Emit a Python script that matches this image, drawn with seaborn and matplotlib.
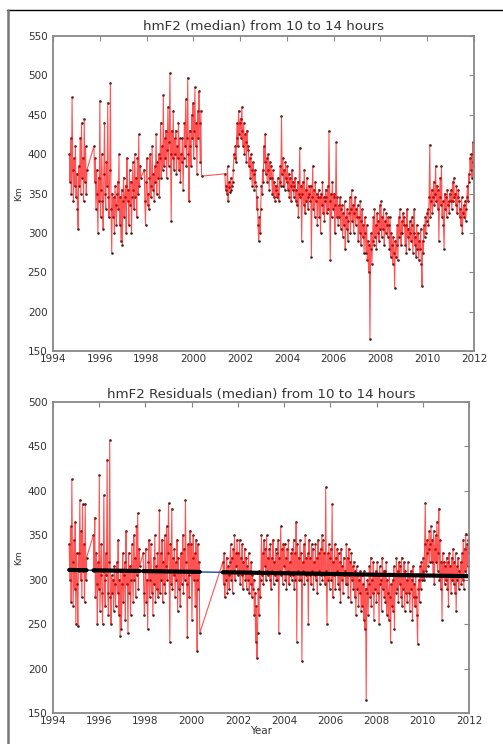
import numpy as np
import pandas as pd
import matplotlib
matplotlib.use("Agg")
import matplotlib.pyplot as plt
from matplotlib.lines import Line2D
import seaborn as sns

# Observation campaigns (decimal years): start, end
SEG_START = [1994.70, 1995.75, 1997.90, 2001.35]
SEG_END = [1995.45, 1997.75, 2000.35, 2012.00]

# hmF2 median (km), 10-14 LT, ~10-day samples, one list per campaign
HMF2_A = [400, 365, 420, 350, 472, 380, 340, 395, 360, 410, 345, 375,
          330, 305, 385, 360, 420, 350, 440, 370, 395, 340, 445, 365,
          410, 350, 380]
HMF2_B = [410, 365, 395, 330, 380, 350, 300, 370, 340, 468, 320, 355,
          400, 340, 305, 375, 440, 350, 330, 390, 360, 465, 345, 320,
          380, 490, 330, 275, 350, 320, 345, 300, 360, 335, 310, 350,
          365, 330, 400, 310, 345, 290, 355, 285, 340, 370, 320, 345,
          360, 300, 395, 340, 355, 310, 380, 335, 365, 300, 345, 390,
          355, 330, 400, 345, 370, 320, 395, 350, 425, 360, 385, 370]
HMF2_C = [380, 340, 310, 365, 395, 335, 350, 330, 370, 400, 345, 360,
          410, 355, 375, 340, 385, 365, 425, 350, 390, 370, 400, 345,
          395, 440, 370, 410, 380, 475, 385, 420, 395, 430, 370, 405,
          460, 385, 415, 503, 400, 315, 430, 395, 455, 380, 420, 400,
          430, 375, 410, 395, 440, 380, 420, 365, 400, 390, 420, 355,
          395, 440, 410, 470, 385, 420, 497, 400, 340, 430, 410, 385,
          450, 420, 465, 395, 430, 485, 410, 440, 375, 455, 420, 480,
          440, 390, 455, 372]
HMF2_D = [375, 355, 360, 350, 385, 340, 365, 358, 352, 370, 355, 360,
          365, 380, 400, 395, 410, 390, 420, 440, 410, 455, 425, 440,
          445, 420, 460, 430, 410, 440, 400, 425, 415, 390, 430, 405,
          410, 385, 395, 370, 400, 380, 360, 390, 375, 355, 380, 365,
          360, 330, 345, 310, 290, 320, 300, 330, 360, 350, 380, 365,
          410, 390, 425, 375, 395, 365, 400, 380, 355, 390, 370, 385,
          370, 350, 380, 345, 365, 340, 360, 355, 345, 370, 350, 340,
          365, 385, 360, 448, 375, 395, 360, 380, 355, 390, 370, 365,
          385, 355, 375, 345, 370, 360, 340, 380, 355, 365, 345, 360,
          370, 340, 355, 335, 365, 320, 350, 408, 345, 360, 290, 350,
          365, 335, 380, 325, 355, 340, 370, 345, 330, 360, 350, 340,
          360, 270, 345, 385, 330, 355, 320, 365, 340, 350, 310, 345,
          355, 320, 345, 300, 350, 335, 365, 325, 345, 315, 340, 355,
          345, 325, 360, 330, 430, 340, 265, 350, 320, 365, 330, 345,
          350, 300, 335, 415, 320, 345, 310, 335, 320, 345, 305, 330,
          335, 295, 325, 310, 340, 280, 320, 305, 330, 290, 315, 325,
          345, 300, 330, 355, 315, 335, 300, 325, 345, 310, 330, 320,
          335, 290, 320, 300, 340, 285, 315, 330, 295, 310, 275, 320,
          300, 275, 310, 265, 290, 250, 285, 165, 280, 300, 260, 290,
          320, 285, 330, 295, 310, 280, 325, 300, 315, 290, 335, 305,
          340, 295, 320, 305, 330, 285, 315, 300, 325, 310, 295, 320,
          310, 280, 320, 270, 300, 285, 260, 295, 275, 230, 290, 270,
          285, 310, 265, 320, 295, 330, 300, 285, 315, 300, 325, 310,
          320, 285, 310, 275, 330, 295, 305, 280, 315, 300, 290, 320,
          310, 275, 300, 330, 285, 295, 270, 310, 280, 300, 265, 290,
          280, 305, 260, 232, 290, 275, 310, 295, 320, 300, 315, 325,
          330, 310, 345, 412, 320, 340, 355, 325, 345, 365, 335, 350,
          385, 340, 360, 330, 355, 290, 345, 370, 335, 385, 320, 340,
          310, 280, 350, 330, 345, 320, 355, 335, 340, 325, 350, 340,
          355, 330, 365, 340, 370, 345, 350, 335, 360, 325, 345, 355,
          340, 320, 330, 310, 345, 300, 325, 335, 320, 340, 315, 330,
          345, 360, 340, 375, 365, 395, 380, 400, 370, 415, 390, 385]

# hmF2 residuals (km), same campaigns
RES_A = [340, 300, 360, 275, 413, 320, 270, 345, 290, 365, 250, 330,
         295, 248, 330, 310, 390, 300, 355, 280, 385, 310, 340, 275,
         385, 300, 325]
RES_B = [350, 310, 370, 280, 330, 295, 250, 320, 290, 418, 265, 305,
         340, 285, 250, 310, 395, 300, 270, 330, 305, 435, 285, 260,
         320, 457, 280, 250, 305, 285, 300, 265, 315, 295, 270, 310,
         320, 285, 345, 260, 300, 237, 310, 245, 295, 330, 275, 305,
         320, 255, 355, 295, 310, 240, 330, 285, 315, 260, 300, 340,
         310, 275, 350, 300, 325, 280, 360, 305, 375, 290, 335, 315]
RES_C = [330, 285, 260, 310, 335, 275, 300, 245, 320, 345, 280, 300,
         340, 285, 310, 260, 325, 295, 350, 275, 315, 290, 330, 280,
         310, 378, 285, 330, 300, 345, 275, 320, 295, 350, 285, 315,
         360, 300, 330, 386, 310, 230, 340, 295, 380, 290, 325, 305,
         335, 280, 320, 300, 345, 265, 325, 290, 310, 270, 330, 295,
         310, 350, 285, 335, 300, 390, 320, 295, 235, 340, 305, 280,
         355, 310, 340, 255, 325, 350, 300, 330, 270, 345, 300, 220,
         340, 290, 320, 240]
RES_D = [320, 295, 330, 280, 310, 300, 325, 285, 315, 305, 290, 320,
         340, 300, 325, 285, 335, 310, 350, 300, 330, 315, 345, 305,
         330, 310, 345, 295, 325, 305, 340, 290, 320, 310, 335, 300,
         325, 290, 315, 300, 330, 285, 310, 295, 320, 280, 305, 290,
         300, 260, 285, 230, 270, 212, 240, 290, 260, 310, 280, 300,
         350, 305, 330, 295, 345, 315, 335, 300, 350, 310, 325, 305,
         335, 300, 340, 290, 325, 310, 345, 295, 320, 305, 335, 300,
         330, 300, 345, 240, 325, 310, 360, 305, 335, 295, 340, 315,
         340, 300, 325, 290, 335, 310, 345, 295, 320, 305, 330, 300,
         335, 305, 345, 290, 330, 300, 365, 230, 340, 310, 325, 300,
         345, 300, 330, 208, 320, 310, 340, 295, 350, 305, 325, 300,
         330, 250, 345, 305, 325, 295, 340, 310, 335, 290, 320, 305,
         340, 300, 325, 285, 345, 310, 330, 295, 335, 305, 350, 300,
         345, 305, 330, 295, 404, 310, 250, 330, 300, 340, 290, 325,
         335, 300, 385, 280, 320, 305, 340, 290, 325, 310, 335, 295,
         330, 290, 320, 275, 335, 300, 315, 285, 325, 305, 310, 295,
         340, 295, 325, 280, 335, 305, 320, 275, 330, 300, 315, 290,
         320, 280, 310, 260, 315, 290, 305, 270, 300, 285, 310, 265,
         305, 270, 295, 255, 310, 245, 290, 165, 285, 300, 260, 295,
         315, 280, 325, 270, 300, 285, 320, 255, 305, 290, 310, 275,
         320, 285, 305, 250, 315, 295, 300, 265, 325, 290, 310, 280,
         310, 275, 320, 260, 300, 285, 255, 305, 280, 230, 295, 270,
         300, 265, 315, 245, 305, 285, 325, 290, 310, 275, 320, 295,
         315, 280, 325, 270, 305, 290, 320, 265, 310, 285, 300, 275,
         320, 285, 305, 265, 310, 290, 300, 255, 315, 280, 295, 270,
         305, 280, 260, 228, 290, 300, 275, 315, 290, 320, 300, 310,
         325, 300, 340, 386, 310, 330, 345, 315, 335, 355, 320, 340,
         360, 320, 345, 305, 355, 295, 335, 350, 320, 365, 310, 330,
         380, 300, 345, 290, 320, 255, 330, 305, 320, 295, 315, 300,
         325, 290, 320, 270, 330, 305, 315, 285, 325, 300, 335, 295,
         320, 285, 330, 265, 315, 300, 325, 290, 310, 305, 320, 295,
         330, 300, 345, 290, 335, 310, 352, 305, 340, 315, 345, 330]

# Linear trend of the residuals (km) at the start/end of each campaign
TREND_START = [311.0, 310.6, 309.7, 308.4]
TREND_END = [310.7, 309.8, 308.8, 304.0]
TREND_YEARS = [1994.70, 2012.00]
TREND_KM = [311.0, 304.0]

YEAR_TICKS = [1994, 1996, 1998, 2000, 2002, 2004, 2006, 2008, 2010, 2012]


def build_frame(segments):
    rows = []
    for s0, s1, vals in zip(SEG_START, SEG_END, segments):
        yrs = np.linspace(s0, s1, len(vals))
        rows.append(pd.DataFrame({"year": yrs, "km": vals}))
    return pd.concat(rows, ignore_index=True)


top = build_frame([HMF2_A, HMF2_B, HMF2_C, HMF2_D])
res = build_frame([RES_A, RES_B, RES_C, RES_D])

sns.set_style("white")
plt.rcParams.update({
    "font.family": ["DejaVu Sans"],
    "xtick.direction": "in",
    "ytick.direction": "in",
    "xtick.top": True,
    "ytick.right": True,
    "xtick.major.size": 3.5,
    "ytick.major.size": 3.5,
    "xtick.color": "#888888",
    "ytick.color": "#888888",
    "xtick.labelcolor": "#333333",
    "ytick.labelcolor": "#333333",
    "xtick.major.pad": 2.5,
    "ytick.major.pad": 4,
})

fig = plt.figure(figsize=(5.03, 7.44), dpi=100)
ax1 = fig.add_axes([53 / 503, 1 - 351 / 744, 421 / 503, 315 / 744])
ax2 = fig.add_axes([53 / 503, 1 - 713 / 744, 416 / 503, 311 / 744])


def draw_series(ax, df):
    sns.lineplot(data=df, x="year", y="km", ax=ax, color="#ff0000",
                 lw=0.8, alpha=0.68, estimator=None, sort=False)
    sns.scatterplot(data=df, x="year", y="km", ax=ax, color="black",
                    s=3.5, linewidth=0, alpha=0.85)


draw_series(ax1, top)
draw_series(ax2, res)

# trend: thin blue line through the whole record, thick black over campaigns
sns.lineplot(x=TREND_YEARS, y=TREND_KM, ax=ax2, color="#2040c0", lw=1.0,
             estimator=None)
for s0, s1, t0, t1 in zip(SEG_START, SEG_END, TREND_START, TREND_END):
    sns.lineplot(x=[s0, s1], y=[t0, t1], ax=ax2, color="black", lw=3.0,
                 estimator=None)

for ax, ylim, yt in [(ax1, (150, 550), np.arange(150, 551, 50)),
                     (ax2, (150, 500), np.arange(150, 501, 50))]:
    ax.set_xlim(1994, 2012)
    ax.set_ylim(*ylim)
    ax.set_xticks(YEAR_TICKS)
    ax.set_yticks(yt)
    ax.tick_params(labelsize=7.5)
    ax.set_ylabel("Km", fontsize=6.5, color="#333333", labelpad=3)
    ax.set_xlabel("")
    for sp in ax.spines.values():
        sp.set_color("#888888")
        sp.set_linewidth(1.3)

ax1.set_title("hmF2 (median) from 10 to 14 hours", fontsize=9.6,
              color="#333333", pad=4)
ax2.set_title("hmF2 Residuals (median) from 10 to 14 hours", fontsize=9.6,
              color="#333333", pad=3)
ax2.set_xlabel("Year", fontsize=7.5, color="#333333", labelpad=0)

# page frame
fig.add_artist(Line2D([7 / 503, 1.0], [1 - 10 / 744, 1 - 10 / 744],
                      transform=fig.transFigure, color="black", lw=1.0))
fig.add_artist(Line2D([7.5 / 503, 7.5 / 503], [0, 1 - 10 / 744],
                      transform=fig.transFigure, color="#777777", lw=1.8))

fig.savefig("out.png", dpi=100)
